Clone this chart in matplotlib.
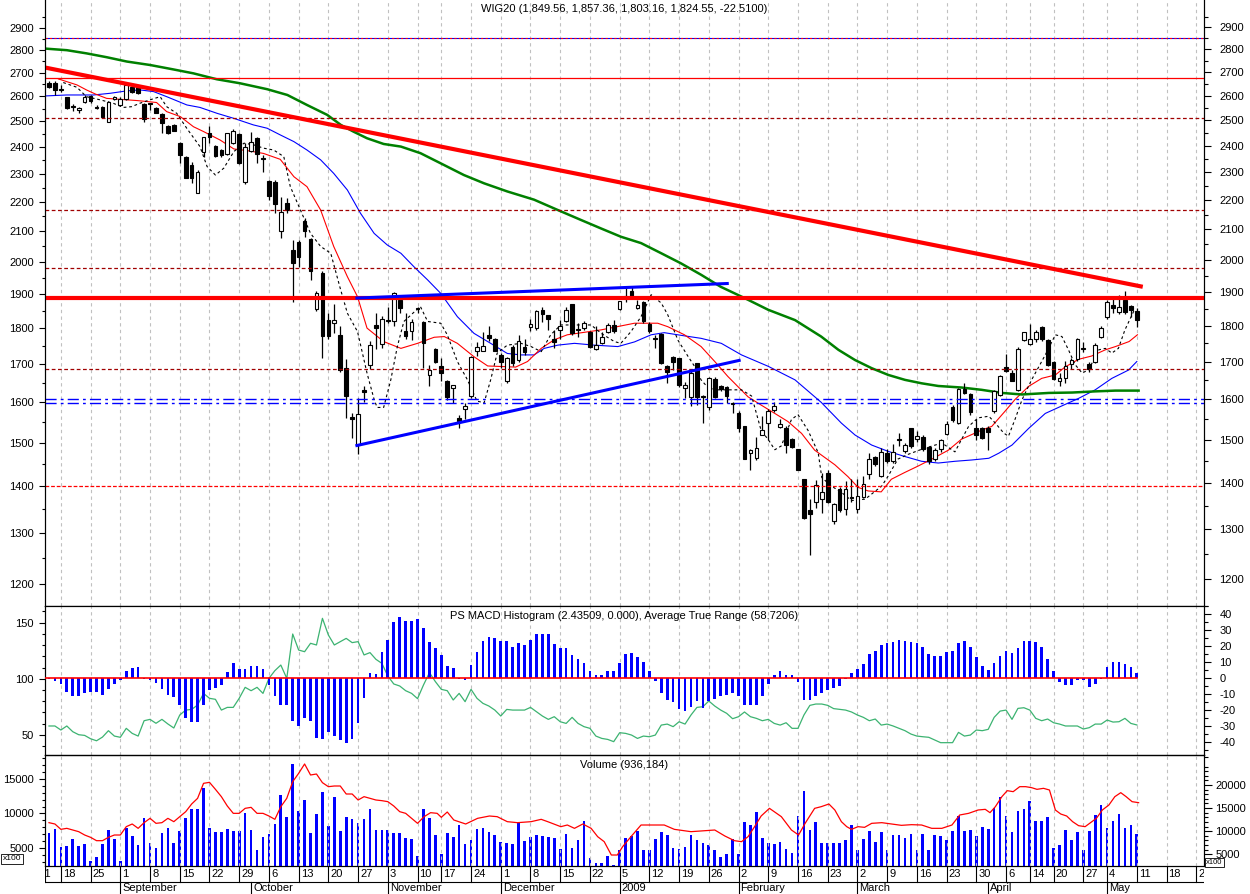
"""WIG20 daily candles with MACD histogram / ATR and volume panes."""
import matplotlib
matplotlib.use("Agg")
import matplotlib.pyplot as plt
import matplotlib.transforms as mtransforms
from matplotlib.ticker import NullFormatter
import numpy as np

plt.rcParams["font.family"] = ["Liberation Sans", "DejaVu Sans"]

# ---- price data (one entry per trading day, 13 Aug 2008 .. 11 May 2009) ----
opens = [
    2658, 2655, 2630, 2596, 2560, 2545, 2576, 2602, 2557, 2555,
    2498, 2588, 2564, 2590, 2638, 2638, 2568, 2571, 2551, 2527,
    2482, 2484, 2414, 2363, 2332, 2229, 2382, 2452, 2405, 2388,
    2373, 2414, 2448, 2271, 2386, 2434, 2358, 2275, 2271, 2100,
    2194, 2038, 2065, 2134, 2072, 1855, 1966, 1823, 1815, 1780,
    1689, 1563, 1495, 1632, 1697, 1810, 1755, 1823, 1821, 1882,
    1793, 1793, 1857, 1818, 1672, 1740, 1695, 1656, 1636, 1560,
    1583, 1616, 1735, 1737, 1780, 1768, 1726, 1654, 1748, 1712,
    1748, 1804, 1800, 1853, 1839, 1770, 1795, 1820, 1871, 1798,
    1800, 1789, 1741, 1757, 1789, 1808, 1854, 1890, 1908, 1857,
    1876, 1813, 1771, 1783, 1694, 1720, 1716, 1636, 1614, 1703,
    1617, 1588, 1661, 1641, 1639, 1597, 1573, 1540, 1476, 1465,
    1520, 1548, 1580, 1539, 1535, 1510, 1485, 1416, 1348, 1366,
    1372, 1430, 1326, 1394, 1351, 1377, 1350, 1377, 1428, 1467,
    1423, 1477, 1458, 1509, 1481, 1535, 1509, 1514, 1491, 1462,
    1486, 1522, 1587, 1549, 1634, 1621, 1536, 1536, 1536, 1577,
    1619, 1692, 1676, 1632, 1766, 1754, 1769, 1803, 1766, 1706,
    1656, 1662, 1701, 1713, 1744, 1700, 1707, 1776, 1833, 1867,
    1847, 1881, 1863, 1849.56,
]
highs = [
    2664, 2666, 2648, 2599, 2568, 2558, 2606, 2606, 2566, 2561,
    2582, 2603, 2599, 2652, 2644, 2648, 2572, 2574, 2555, 2531,
    2484, 2488, 2420, 2366, 2342, 2314, 2439, 2480, 2407, 2392,
    2455, 2470, 2452, 2414, 2459, 2439, 2369, 2277, 2277, 2218,
    2212, 2070, 2070, 2143, 2076, 1908, 1970, 1843, 1870, 1806,
    1714, 1573, 1612, 1642, 1764, 1843, 1834, 1862, 1907, 1897,
    1843, 1825, 1862, 1820, 1697, 1745, 1716, 1658, 1645, 1568,
    1598, 1723, 1761, 1790, 1806, 1771, 1730, 1720, 1752, 1779,
    1770, 1825, 1853, 1862, 1839, 1795, 1823, 1860, 1871, 1814,
    1820, 1792, 1806, 1790, 1815, 1823, 1880, 1923, 1923, 1882,
    1878, 1818, 1780, 1785, 1697, 1722, 1716, 1652, 1684, 1703,
    1618, 1666, 1666, 1645, 1641, 1600, 1577, 1542, 1485, 1514,
    1566, 1582, 1601, 1557, 1541, 1512, 1485, 1417, 1372, 1415,
    1430, 1438, 1363, 1398, 1412, 1416, 1416, 1424, 1477, 1470,
    1487, 1485, 1497, 1524, 1500, 1537, 1528, 1518, 1493, 1488,
    1510, 1553, 1592, 1637, 1649, 1624, 1558, 1539, 1540, 1632,
    1672, 1728, 1683, 1746, 1790, 1812, 1796, 1807, 1770, 1708,
    1676, 1709, 1716, 1771, 1761, 1705, 1759, 1807, 1881, 1894,
    1897, 1908, 1868, 1857.36,
]
lows = [
    2635, 2606, 2620, 2548, 2541, 2531, 2572, 2572, 2549, 2515,
    2498, 2585, 2561, 2585, 2613, 2610, 2498, 2545, 2534, 2455,
    2449, 2461, 2338, 2283, 2265, 2229, 2363, 2416, 2363, 2363,
    2369, 2411, 2336, 2261, 2382, 2341, 2307, 2206, 2160, 2076,
    2160, 1876, 1984, 2079, 1943, 1850, 1716, 1768, 1785, 1680,
    1560, 1512, 1474, 1600, 1687, 1740, 1744, 1815, 1805, 1843,
    1770, 1766, 1843, 1690, 1641, 1702, 1655, 1606, 1597, 1536,
    1557, 1611, 1722, 1735, 1763, 1735, 1690, 1650, 1694, 1706,
    1726, 1791, 1795, 1818, 1795, 1745, 1769, 1817, 1780, 1776,
    1795, 1743, 1739, 1754, 1785, 1785, 1852, 1876, 1886, 1854,
    1814, 1785, 1743, 1700, 1650, 1684, 1640, 1612, 1590, 1592,
    1548, 1580, 1612, 1629, 1597, 1573, 1527, 1462, 1436, 1460,
    1518, 1508, 1576, 1537, 1477, 1489, 1438, 1330, 1255, 1352,
    1343, 1364, 1319, 1345, 1338, 1366, 1342, 1374, 1417, 1446,
    1421, 1454, 1454, 1493, 1477, 1489, 1502, 1481, 1450, 1458,
    1479, 1520, 1551, 1547, 1620, 1569, 1506, 1510, 1484, 1573,
    1617, 1679, 1654, 1628, 1764, 1752, 1760, 1764, 1696, 1658,
    1641, 1649, 1686, 1709, 1733, 1679, 1702, 1771, 1827, 1843,
    1841, 1841, 1833, 1803.16,
]
closes = [
    2638, 2627, 2625, 2551, 2556, 2554, 2599, 2583, 2554, 2518,
    2579, 2599, 2590, 2648, 2620, 2616, 2507, 2569, 2534, 2491,
    2452, 2462, 2369, 2283, 2283, 2305, 2437, 2437, 2366, 2369,
    2452, 2461, 2338, 2401, 2420, 2373, 2356, 2220, 2192, 2163,
    2171, 1995, 2016, 2101, 1972, 1902, 1777, 1777, 1823, 1684,
    1617, 1559, 1571, 1626, 1752, 1800, 1827, 1821, 1904, 1858,
    1777, 1818, 1855, 1759, 1685, 1706, 1676, 1614, 1644, 1553,
    1590, 1718, 1748, 1750, 1772, 1737, 1707, 1717, 1702, 1763,
    1734, 1813, 1849, 1841, 1826, 1762, 1806, 1853, 1785, 1796,
    1814, 1748, 1752, 1776, 1808, 1792, 1878, 1895, 1888, 1866,
    1819, 1792, 1768, 1702, 1680, 1705, 1645, 1645, 1677, 1614,
    1613, 1663, 1614, 1633, 1616, 1595, 1537, 1463, 1483, 1489,
    1531, 1578, 1590, 1546, 1495, 1491, 1438, 1332, 1340, 1404,
    1388, 1366, 1361, 1349, 1394, 1374, 1380, 1405, 1463, 1450,
    1478, 1458, 1479, 1507, 1496, 1493, 1516, 1486, 1458, 1484,
    1506, 1545, 1555, 1634, 1624, 1575, 1520, 1512, 1526, 1628,
    1669, 1681, 1656, 1742, 1788, 1770, 1788, 1768, 1698, 1660,
    1663, 1696, 1711, 1768, 1742, 1687, 1752, 1800, 1876, 1859,
    1861, 1846, 1852, 1824.55,
]

# moving averages (trading-day number, value)
ma_red_day = [1.6, 4.7, 6.3, 7.8, 9.7, 12, 14.8, 16.5, 18.1, 19.8, 22.1, 24.3, 26, 28.8,
              31.1, 33.3, 36.1, 38.9, 41.2, 43.4, 45.7, 47.9, 50.2, 51.9, 53.5, 56.3, 59.2,
              62, 64.8, 66.5, 68.7, 71.5, 73.8, 78.5, 80.5, 82.8, 85, 87.2, 92.9, 98.5,
              102.4, 104.1, 106.9, 109.7, 112, 114.2, 117.6, 119.8, 122.1, 124.3, 126.6,
              128.8, 132.2, 134.4, 136.1, 137.8, 140, 141.7, 143.9, 146.2, 148.5, 151.3,
              153.5, 156.9, 158.6, 160.8, 162.5, 164.8, 167, 169.3, 170.9, 173.2, 175.4,
              177.7, 179.4, 181.7, 183.1]
ma_red = [2673, 2648, 2627, 2610, 2592, 2588, 2583, 2579, 2575, 2538, 2518, 2478, 2459, 2426,
          2392, 2386, 2375, 2353, 2289, 2253, 2171, 2049, 1953, 1892, 1800, 1762, 1743,
          1757, 1774, 1776, 1757, 1720, 1695, 1692, 1707, 1743, 1767, 1781, 1795, 1814,
          1814, 1804, 1781, 1748, 1707, 1667, 1614, 1593, 1572, 1552, 1523,
          1483, 1449, 1422, 1398, 1390, 1388, 1416, 1431, 1446, 1462, 1483,
          1509, 1531, 1540, 1577, 1607, 1641, 1662, 1671, 1692, 1713, 1722,
          1739, 1748, 1762, 1781]

ma_blue_day = [-0.6, 3, 7.5, 10.3, 13.1, 15.3, 17.6, 19.8, 23.2, 25.4, 28.3, 31.1, 34.4, 36.7,
               38.9, 41.2, 43.4, 45.7, 47.9, 50.2, 52.4, 54.7, 56.9, 59.2, 61.4, 63.7, 65.9,
               68.7, 71.5, 74.3, 77.1, 79.4, 81.6, 83.3, 85.6, 88.4, 91.7, 95.7, 98.5, 101.3,
               103.5, 106.9, 109.7, 113.1, 116.5, 121, 125.5, 129.9, 133.3, 135.6, 138.4,
               141.2, 144, 146.8, 149.6, 152.4, 155.2, 158.1, 159.8, 162, 164.8, 167.6,
               170.4, 173.2, 176, 178.8, 181.6, 183]
ma_blue = [2602, 2606, 2606, 2613, 2623, 2627, 2620, 2599, 2565, 2555, 2531, 2511, 2485, 2472,
           2446, 2420, 2388, 2351, 2301, 2241, 2160, 2092, 2054, 2027, 1984, 1943, 1902,
           1833, 1785, 1757, 1729, 1725, 1725, 1743, 1752, 1757, 1752, 1748, 1761, 1781,
           1787, 1778, 1771, 1757, 1725, 1694, 1658, 1600, 1548, 1519, 1495,
           1480, 1468, 1457, 1453, 1457, 1460, 1464, 1476, 1495, 1535, 1572,
           1591, 1610, 1632, 1662, 1684, 1707]

ma_green_day = [-0.6, 3, 6.3, 9.7, 13.1, 17, 20.9, 24.3, 28.2, 32.1, 36.7, 40.1, 43.4, 46.8,
                49.1, 51.2, 53.5, 56.3, 59.2, 62.5, 65.9, 69.8, 73.2, 77.1, 81.6, 85.6, 89.5,
                92.8, 96.2, 99.6, 103, 106.3, 109.7, 113, 117, 121, 125.5, 129.9, 132.8,
                135.6, 138.4, 141.2, 144, 146.8, 149.6, 153.5, 156.9, 160.3, 163.7, 168.2,
                172.1, 176, 179.4, 183.3]
ma_green = [2805, 2798, 2784, 2767, 2748, 2733, 2714, 2697, 2672, 2655, 2630, 2606, 2565, 2525,
            2485, 2459, 2433, 2411, 2401, 2376, 2338, 2295, 2265, 2236, 2207, 2171, 2137, 2109,
            2081, 2060, 2027, 1995, 1959, 1922, 1888, 1853, 1823, 1776, 1739, 1711,
            1689, 1671, 1658, 1649, 1642, 1638, 1632, 1624, 1620, 1624, 1625,
            1628, 1630, 1630]

ma_fast_day = [2.4, 4.7, 6.3, 8.6, 10.8, 12.5, 13.9, 15.3, 17, 18.7, 19.8, 21.5, 23.2, 25.4,
               26.6, 28, 29.4, 31.1, 32.8, 34.4, 36.1, 37.8, 39.5, 40.6, 42.3, 44, 45.7, 47.4,
               49, 50.2, 51.9, 53.5, 54.7, 55.2, 56.3, 57.5, 58.6, 59.7, 61.4, 62.5, 63.7,
               65.9, 67, 68.7, 70.4, 72, 73.2, 74.3, 75.4, 77.1, 79.4, 81.1, 82.8, 84.4, 86.1,
               91.2, 92.9, 95.1, 96.2, 97.9, 99.6, 101.3, 103, 104.1, 105.8, 107.5, 108.6,
               109.7, 110.9, 112.5, 116.5, 118.2, 119.8, 121, 122.1, 123.2, 124.9, 126,
               127.7, 129.4, 130, 131.6, 133.3, 135, 137.3, 140.1, 141.2, 142.8, 144.5,
               146.8, 150.2, 152.4, 153.5, 154.7, 156.3, 158.1, 159.2, 160.6, 161.4, 162.5,
               163.7, 165.3, 167.6, 169.3, 170.4, 171.5, 172.6, 173.8, 174.9, 176.6, 177.7,
               178.8, 179.9, 181, 182.7]
ma_fast = [2658, 2638, 2599, 2586, 2572, 2555, 2558, 2572, 2586, 2599, 2558, 2531, 2471, 2401,
           2326, 2295, 2320, 2382, 2414, 2408, 2395, 2388, 2363, 2253, 2171, 2092, 2049, 2027,
           1917, 1843, 1790, 1676, 1607, 1587, 1587, 1658, 1748, 1819, 1846, 1862, 1819,
           1814, 1781, 1707, 1658, 1603, 1599, 1658, 1730, 1752, 1757, 1748, 1734, 1781, 1809,
           1809, 1785, 1762, 1757, 1790, 1833, 1898, 1873, 1838, 1766, 1721, 1694,
           1658, 1637, 1632, 1632, 1616, 1530, 1508, 1484, 1493, 1557, 1569,
           1530, 1477, 1420, 1401, 1387, 1369, 1372, 1401, 1424, 1462, 1473,
           1485, 1500, 1479, 1508, 1540, 1561, 1565, 1548, 1524, 1516, 1557,
           1607, 1658, 1725, 1781, 1776, 1739, 1699, 1676, 1685, 1739, 1743,
           1730, 1743, 1795, 1857]

# support / resistance levels and trend lines
level_blue_red = 2851
level_red = 2676
levels_dark_dashed = [2512, 2170, 1980, 1688]
level_thick = 1888
levels_dashdot = [1608, 1597]
level_low = 1400
red_trend_day, red_trend = [-0.67, 184.0], [2722, 1922]
blue_top_day, blue_top = [51.8, 114.1], [1888, 1932]
blue_low_day, blue_low = [51.8, 116.1], [1494, 1710]

# ---- indicator data ----
macd_hist = [
    -1, -2, -4, -9, -11.4, -11.4, -9.7, -8.9, -8.9, -11,
    -7.2, -4, -1.3, 4.4, 5.9, 6.8, -0.8, -1.3, -3.4, -6.8,
    -11, -12.2, -17.3, -25.1, -27.8, -27.4, -16.7, -7.6, -6.5, -4.6,
    3.4, 9.1, 5.5, 5.5, 7.6, 7.2, 5.5, -4.6, -11.4, -16.7,
    -17.3, -27.2, -30, -25.1, -27.2, -37.8, -38.4, -34.2, -36.7, -39.2,
    -40.9, -38.4, -28.3, -12.4, 3, 2.3, 16, 24, 35, 38.2,
    35.4, 35.9, 37.1, 31.4, 22.4, 18.6, 14.3, 7.2, 5.9, -0.4,
    -1.3, 8.2, 16, 22.8, 25.5, 24.9, 23, 23, 19.6, 21.9,
    20.7, 23.6, 27.4, 27.6, 27.2, 20.9, 18.6, 18.8, 14.6, 11.8,
    9.1, 4.4, 2.1, 2.1, 4, 4, 9.1, 15, 15.6, 13.3,
    9.7, 4.2, -1.9, -9.3, -13.9, -15.2, -19.4, -20.5, -18.1, -14.6,
    -18.8, -14.6, -13.5, -11.4, -10.5, -9.3, -11.4, -17.3, -17.3, -16.7,
    -11.4, -4, 2.1, 4.4, 2.1, 1.7, -2.5, -13.9, -13.9, -11.4,
    -9.2, -7.6, -6.1, -5.1, -0.4, 3, 5.5, 8.6, 15, 17.1,
    20.7, 21.9, 22.4, 23.6, 23.2, 22.4, 21.9, 19.2, 15, 13.9,
    13.5, 16, 16.9, 21.9, 22.8, 19.2, 13.3, 7.6, 4.9, 9.3,
    13.5, 16.7, 15.6, 19, 23, 23.2, 22.4, 19.2, 11.8, 4.4,
    -2.5, -4.2, -4.4, -1.3, -1.3, -5.5, -3.6, -0.4, 6.8, 9.9,
    9.7, 8.4, 6.8, 3.0,
]
atr = [
    57.8, 57.8, 54.2, 57.8, 52.7, 50, 49.4, 46.4, 44.6, 47.9,
    53.6, 48.8, 47.7, 55.7, 51.2, 48.8, 62.5, 63.7, 60.2, 63.7,
    59.6, 56, 67.6, 72, 72.6, 76.5, 86.9, 82.5, 81.6, 72,
    74.4, 74.4, 82.5, 92.3, 89.3, 92.3, 86.9, 100.3, 107.2, 112.2,
    100.3, 139.9, 125.6, 124.1, 131.6, 130.1, 153.9, 139, 130.1, 133.1,
    136, 132.2, 133.1, 121.2, 123.3, 117.3, 113.7, 102.4, 95.3, 93.5,
    89.3, 86.9, 82.2, 94.4, 105.4, 97.4, 90.5, 89.3, 81, 86.9,
    79.5, 90.5, 82.5, 78, 75.6, 72, 66.7, 72.6, 72, 72,
    72, 74.4, 70.6, 66.7, 63.7, 66.1, 61.6, 60.1, 65.5, 60.1,
    57.2, 55.7, 48.8, 46.7, 45.8, 43.8, 51.8, 51.2, 49.7, 46.7,
    48.8, 48.2, 49.7, 58.6, 59.5, 57.2, 61.6, 59.5, 67.6, 74.4,
    75, 80.1, 75.6, 72, 69.1, 64.3, 66.1, 70.3, 66.1, 64.6,
    62.5, 63.7, 60.1, 58.6, 60.7, 55.7, 55.7, 67.6, 76.2, 77.4,
    77.4, 76.2, 73.3, 72.6, 72, 70.3, 67.6, 65.5, 62.5, 64,
    58.6, 59.5, 57.8, 55.7, 53.6, 50.6, 48.8, 48.2, 47.7, 45.3,
    42.9, 42.9, 42.9, 52.1, 48.8, 49.7, 54.2, 53.6, 54.8, 65.5,
    71.1, 72, 63.7, 73.5, 74.1, 72, 64.6, 62.5, 64, 60.7,
    59.5, 57.8, 57.8, 57.8, 55.1, 56.3, 59.5, 59.5, 63.1, 61.3,
    61.6, 64.6, 60.1, 58.72,
]
volume = [  # x100
    9633, 10575, 6588, 6733, 8328, 6733, 7313, 3470, 4413, 7313,
    10213, 8255, 3470, 10793, 9053, 6950, 12750, 7530, 6370, 9633,
    10793, 7530, 10068, 12750, 14708, 14853, 19420, 10720, 9850, 9778,
    10575, 10068, 10068, 13983, 10358, 5863, 8763, 9488, 11518, 17825,
    13113, 24568, 14345, 16738, 9705, 13693, 18405, 11155, 17463, 9995,
    12968, 12605, 11808, 12533, 14780, 10358, 10358, 10358, 9633, 9705,
    8545, 8400, 4558, 14708, 12750, 9125, 4993, 9633, 8763, 11445,
    7168, 8183, 10575, 10720, 9850, 9125, 7675, 7458, 7313, 11880,
    7893, 8763, 9125, 8908, 8763, 8545, 6153, 9488, 6443, 8038,
    12243, 4195, 3108, 3108, 4703, 2600, 5863, 8618, 8980, 10068,
    5863, 5863, 8400, 9850, 9125, 6443, 6225, 6588, 9125, 8183,
    7530, 7095, 5863, 4413, 4993, 8400, 5138, 12025, 11300, 14055,
    8545, 7530, 7313, 7603, 6225, 5355, 13258, 18768, 10358, 12025,
    7530, 7530, 7530, 7530, 8183, 11445, 5863, 8255, 10068, 7675,
    9850, 5863, 9125, 9125, 8545, 9488, 5863, 9343, 5863, 9125,
    8980, 8183, 9995, 13258, 9995, 10213, 8908, 10938, 10575, 15070,
    17318, 13330, 9850, 14418, 14708, 16520, 12243, 12243, 12968, 6370,
    6950, 10213, 8038, 9850, 5863, 9995, 13475, 15650, 10793, 12243,
    13693, 10793, 11445, 9362,
]
vol_ma_day = [0, 1, 2, 3, 4, 5, 6, 7, 8, 9, 10, 11, 12, 13, 14, 15, 16, 17, 18, 19, 20, 21,
              22, 23, 24, 25, 26, 27, 28, 29, 30, 31, 32, 33, 34, 35, 36, 37, 38, 39, 40, 41,
              42, 43, 44, 45, 46, 47, 48, 49, 50, 51, 52, 53, 54, 55, 56, 57, 58, 59, 60, 61,
              62, 63.1, 64.2, 65.3, 66, 67, 68.1, 70.1, 72.1, 74.1, 75.4, 77.1, 78.8, 81.1,
              82.8, 83.9, 86.1, 87.2, 88.4, 89.8, 91.2, 92.3, 93.4, 94.6, 95.6, 96.5, 97.9,
              99.6, 101.9, 103.5, 105.2, 108, 112, 113.7, 115.3, 116.5, 117.6, 118.7, 119.8,
              121.2, 123.2, 124.9, 126.1, 127.2, 128.8, 129.9, 131.2, 132.2, 133.3, 134.2,
              135, 136.1, 137.2, 138.4, 140.1, 141.7, 143.4, 145.1, 146.8, 148.5, 150.2,
              151.9, 153.2, 154.7, 156.3, 157.5, 158.3, 159.2, 160.3, 161.2, 162.2, 163.3,
              164.3, 165.3, 166.2, 167.3, 168.3, 169.3, 170.2, 171.2, 172.2, 173.2, 174.3,
              175.2, 176.2, 177.2, 178.3, 179.3, 180.3, 181.2, 182.2, 183.3]
vol_ma = [8683, 8491, 7724, 7868, 7628, 7389, 6910, 6575, 6096, 6096, 6575, 6910, 6910, 8108,
          8491, 7868, 8683, 9305, 8587, 8683, 9305, 8826, 9545, 10263, 11364, 12179, 14334,
          14478, 13472, 12419, 11077, 10023, 10023, 10741, 10885, 10023, 10023, 9640, 9162,
          10981, 12179, 14573, 15771, 17113, 15532, 15675, 14430, 13855, 13951, 13951,
          12802, 12802, 11939, 12419, 12179, 11939, 11844, 11700, 11077, 10263, 10023, 9305,
          8587, 9545, 10119, 10023, 9449, 10215, 9066, 8491, 9305, 9640, 9545, 8826, 8683,
          8826, 9162, 8826, 8108, 8347, 7868, 8491, 7868, 6671, 5952, 4036, 4036, 5233,
          6671, 8347, 8347, 8347, 7724, 7389, 7628, 6766, 6096, 5952, 6671, 8108, 9640,
          10741, 9545, 7628, 6910, 8587, 10741, 10981, 11364, 10502, 8826, 8108,
          7724, 8108, 8012, 8587, 8683, 8491, 8299, 8395, 8347, 7868, 7868,
          8347, 9784, 10023, 10502, 10598, 10119, 10981, 12419, 13281, 13137, 13855,
          13855, 13712, 13472, 13616, 13376, 10502, 9927, 9640, 8826, 8252, 8108,
          8683, 9305, 10502, 11220, 12419, 12993, 12419, 11700, 11556]

# ---- date axis ----
week_day = [-2, 2, 7, 12, 17, 22, 27, 32, 37, 42, 47, 52, 57, 62, 66, 71, 76, 81, 86, 91,
            96, 101, 106, 111, 116, 121, 126, 131, 136, 141, 146, 151, 156, 161, 165, 169,
            174, 178, 183, 188, 193]
week_labels = ["11", "18", "25", "1", "8", "15", "22", "29", "6", "13", "20", "27", "3",
               "10", "17", "24", "1", "8", "15", "22", "5", "12", "19", "26", "2", "9", "16",
               "23", "2", "9", "16", "23", "30", "6", "14", "20", "27", "4", "11", "18", "25"]
month_day = [12, 34, 57, 76, 96, 116, 136, 158, 178]
month_labels = ["September", "October", "November", "December", "2009", "February",
                "March", "April", "May"]

TITLE = "WIG20 (1,849.56, 1,857.36, 1,803.16, 1,824.55, -22.5100)"
MACD_TITLE = "PS MACD Histogram (2.43509, 0.000), Average True Range (58.7206)"
VOL_TITLE = "Volume (936,184)"

# ---- layout ----
W, H = 1250, 894
XL, XR = -0.67, 194.3
GRID = "#c0c0c0"
DARKRED = "#a00000"


def pane(top, bottom):
    return [45 / W, 1 - bottom / H, (1204 - 45) / W, (bottom - top) / H]


def style_y(a, major, labels, minor, length, pad, right=False):
    a.set_yticks(major, labels=labels)
    a.set_yticks(minor, minor=True)
    a.yaxis.set_minor_formatter(NullFormatter())
    if right:
        a.yaxis.tick_right()
    else:
        a.yaxis.tick_left()
    a.tick_params(axis="y", which="major", length=length, width=0.8, pad=pad,
                  labelsize=8, direction="out")
    a.tick_params(axis="y", which="minor", length=length * 0.55, width=0.8,
                  direction="out")
    a.tick_params(axis="x", which="both", bottom=False, top=False, labelbottom=False)
    a.set_xlim(XL, XR)
    for s in a.spines.values():
        s.set_linewidth(0.8)


fig = plt.figure(figsize=(W / 100, H / 100), dpi=100)
fig.patch.set_facecolor("white")

ax = fig.add_axes(pane(0, 606))
axr = ax.twinx()
axm = fig.add_axes(pane(606, 755))
axm2 = axm.twinx()
axv = fig.add_axes(pane(755, 866))
axv2 = axv.twinx()
axd = fig.add_axes(pane(866, 894))

days = np.arange(len(closes))

# ---- price pane ----
for a in (ax, axr):
    a.set_yscale("log")
    a.set_ylim(1158, 3030)
    a.spines["top"].set_visible(False)
major_p = list(range(1200, 3000, 100))
minor_p = list(range(1150, 3050, 100))
style_y(ax, major_p, [str(v) for v in major_p], minor_p, 4.5, 3.5)
style_y(axr, major_p, [str(v) for v in major_p], minor_p, 5.0, 6.0, right=True)

for d in week_day:
    ax.axvline(d, color=GRID, lw=0.8, ls=(0, (3, 3)), zorder=0.5)

ax.axhline(level_blue_red, color="blue", lw=0.8, zorder=5)
ax.axhline(level_blue_red, color="red", lw=0.8, ls=(0, (2, 2)), zorder=5)
ax.axhline(level_red, color="red", lw=0.9, zorder=5)
for lv in levels_dark_dashed:
    ax.axhline(lv, color=DARKRED, lw=0.9, ls=(0, (3, 2)), zorder=5)
ax.axhline(level_low, color="red", lw=0.9, ls=(0, (3, 1.5)), zorder=5)
for lv in levels_dashdot:
    ax.axhline(lv, color="blue", lw=1.0, ls=(0, (8, 3, 2, 3)), zorder=5)
ax.axhline(level_thick, color="red", lw=3.0, zorder=5)

ax.plot(ma_green_day, ma_green, color="#008000", lw=1.8, zorder=2.6)
ax.plot(ma_blue_day, ma_blue, color="blue", lw=0.8, zorder=2.5)
ax.plot(ma_red_day, ma_red, color="red", lw=0.8, zorder=2.5)
ax.plot(ma_fast_day, ma_fast, color="black", lw=0.8, ls=(0, (2.5, 2.5)), zorder=2.5)

o, h, l, c = (np.array(v, dtype=float) for v in (opens, highs, lows, closes))
up = c >= o
lo, hi = np.minimum(o, c), np.maximum(o, c)
ax.vlines(days, l, h, color="black", lw=0.9, zorder=3)
ax.bar(days[up], (hi - lo)[up], bottom=lo[up], width=0.62, facecolor="white",
       edgecolor="black", linewidth=0.8, zorder=4)
ax.bar(days[~up], (hi - lo)[~up], bottom=lo[~up], width=0.62, facecolor="black",
       edgecolor="black", linewidth=0.8, zorder=4)

ax.plot(red_trend_day, red_trend, color="red", lw=3.0, solid_capstyle="butt", zorder=6)
ax.plot(blue_top_day, blue_top, color="blue", lw=2.2, zorder=6)
ax.plot(blue_low_day, blue_low, color="blue", lw=2.2, zorder=6)
ax.set_xlim(XL, XR)
ax.set_ylim(1158, 3030)

# ---- MACD histogram / ATR pane ----
axm.set_ylim(31.9, 164.9)
axm2.set_ylim(-48.3, 45.0)
style_y(axm, [50, 100, 150], ["50", "100", "150"], list(range(40, 161, 10)), 4.5, 3.5)
macd_major = list(range(-40, 41, 10))
style_y(axm2, macd_major, [str(v) for v in macd_major], list(range(-45, 46, 10)),
        5.0, 6.0, right=True)
for d in week_day:
    axm.axvline(d, color=GRID, lw=0.8, ls=(0, (3, 3)), zorder=0.5)
axm.plot(days, atr, color="#3cb371", lw=0.9, zorder=2)
axm2.bar(days, macd_hist, width=0.45, color="blue", zorder=2)
axm2.plot([XL, days[-1]], [0, 0], color="red", lw=1.2, zorder=3)

# ---- volume pane ----
axv.set_ylim(2457, 18405)
axv2.set_ylim(2468, 26494)
style_y(axv, [5000, 10000, 15000], ["5000", "10000", "15000"],
        [v for v in range(3000, 18001, 1000) if v % 5000], 4.5, 3.5)
style_y(axv2, [5000, 10000, 15000, 20000], ["5000", "10000", "15000", "20000"],
        [v for v in range(3000, 26001, 1000) if v % 5000], 5.5, 2.5, right=True)
axv2.bar(days, volume, width=0.45, color="blue", zorder=2)
axv.set_zorder(axv2.get_zorder() + 1)
axv.patch.set_visible(False)
for d in week_day:
    axv.axvline(d, color=GRID, lw=0.8, ls=(0, (3, 3)), zorder=0.5)
axv.plot(vol_ma_day, vol_ma, color="red", lw=0.9, zorder=3)

# ---- date rows ----
axd.set_xlim(XL, XR)
axd.set_ylim(28, 0)
axd.axis("off")
shift = mtransforms.offset_copy(axd.transData, fig=fig, x=2, y=0, units="dots")
axd.plot([XL, XR], [15.7, 15.7], color="black", lw=0.8)
axd.plot([XL, XL], [0, 15.7], color="black", lw=0.8)
for d, lab in zip(week_day, week_labels):
    axd.plot([d, d], [0, 15.7], color="black", lw=0.8, clip_on=True)
    axd.text(d, 8, lab, transform=shift, ha="left", va="center", fontsize=8,
             clip_on=True)
for d, lab in zip(month_day, month_labels):
    axd.plot([d, d], [15.7, 28], color="black", lw=0.8, clip_on=False)
    axd.text(d, 21.8, lab, transform=shift, ha="left", va="center", fontsize=8)

# ---- titles and unit boxes ----
cx = 624.5 / W
fig.text(cx, 1 - 9 / H, TITLE, ha="center", va="center", fontsize=8)
fig.text(cx, 1 - 616 / H, MACD_TITLE, ha="center", va="center", fontsize=8)
fig.text(cx, 1 - 764.5 / H, VOL_TITLE, ha="center", va="center", fontsize=8)
unit_box = dict(boxstyle="square,pad=0.15", fc="white", ec="black", lw=0.6)
fig.text(12 / W, 1 - 859 / H, "x100", ha="center", va="center", fontsize=6,
         bbox=unit_box)
fig.text(1214.5 / W, 1 - 862.5 / H, "x100", ha="center", va="center", fontsize=5.5,
         bbox=unit_box)

fig.savefig("out.png", dpi=100, facecolor="white")
print("wrote out.png")
